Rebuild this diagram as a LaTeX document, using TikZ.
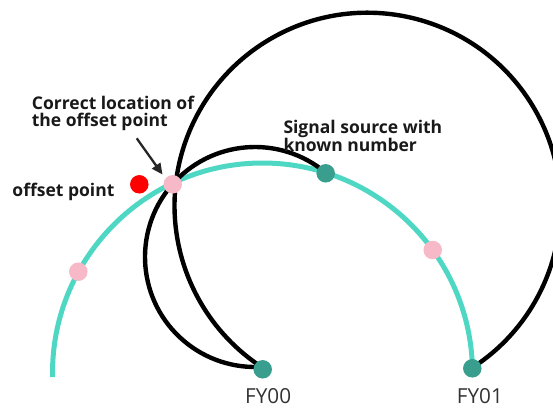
\documentclass[tikz,border=0pt]{standalone}
\usepackage{fontspec}
\setmainfont{Open Sans}
\usetikzlibrary{arrows.meta}
\definecolor{turq}{HTML}{4ED8C4}
\definecolor{darkteal}{HTML}{3A9E8F}
\definecolor{pinkdot}{HTML}{F7B8C8}
\definecolor{reddot}{HTML}{FF0000}
\definecolor{lblgray}{HTML}{333333}
\tikzset{
  blackarc/.style={line width=4.4pt, black},
  turqarc/.style={line width=5pt, turq},
  dotbase/.style={circle, inner sep=0pt, minimum size=18.5pt},
  pinkpt/.style={dotbase, fill=pinkdot},
  tealpt/.style={dotbase, fill=darkteal},
  redpt/.style={dotbase, fill=reddot},
  boldlbl/.style={font=\fontsize{17.5}{18}\selectfont\bfseries, text=black!90, inner sep=0pt, anchor=base west},
  fylbl/.style={font=\fontsize{20.7}{22}\selectfont, text=lblgray, inner sep=0pt, anchor=base west},
  pointer/.style={line width=2.3pt, black!85, -{Triangle[length=11pt,width=10pt]}}
}
\begin{document}
\begin{tikzpicture}[x=1pt,y=1pt]
\useasboundingbox (0,0) rectangle (553,408);
\clip (0,0) rectangle (553,408);
% turquoise arc (center 262.5,35 r 210)
\draw[turqarc] (262.5,35) ++(181.1:210) arc[start angle=181.1, end angle=1.3, radius=210];
% big black circle arc (center 367.5,202.3 r 193)
\draw[blackarc] (367.5,202.3) ++(-57.2:193) arc[start angle=-57.2, end angle=237.2, radius=193];
% small black circle arc (center 255,151 r 110)
\draw[blackarc] (255,151) ++(49.8:110) arc[start angle=49.8, end angle=273.9, radius=110];
% dots
\node[pinkpt] (pcorrect) at (172.7,223.7) {};
\node[pinkpt] (pleft) at (78.3,136.3) {};
\node[pinkpt] (pright) at (432.7,158) {};
\node[redpt] (offset) at (139.3,223.7) {};
\node[tealpt] (known) at (325.7,234.7) {};
\node[tealpt] (fy00) at (262.7,38.7) {};
\node[tealpt] (fy01) at (472.3,39.7) {};
% arrow
\coordinate (astart) at (136.7,269.7);
\coordinate (atip) at (162.5,233.5);
\draw[pointer] (astart) -- (atip);
% labels
\node[boldlbl] (lcorrA) at (31.7,298.5) {Correct location of};
\node[boldlbl] (lcorrB) at (31.7,282) {the offset point};
\node[boldlbl] (loffset) at (12.3,212) {offset point};
\node[boldlbl] (lsigA) at (283.3,274.5) {Signal source with};
\node[boldlbl] (lsigB) at (283.3,256.5) {known number};
\node[fylbl] (lfy00) at (245,4.7) {FY00};
\node[fylbl] (lfy01) at (456.7,4.7) {FY01};
\end{tikzpicture}
\end{document}
